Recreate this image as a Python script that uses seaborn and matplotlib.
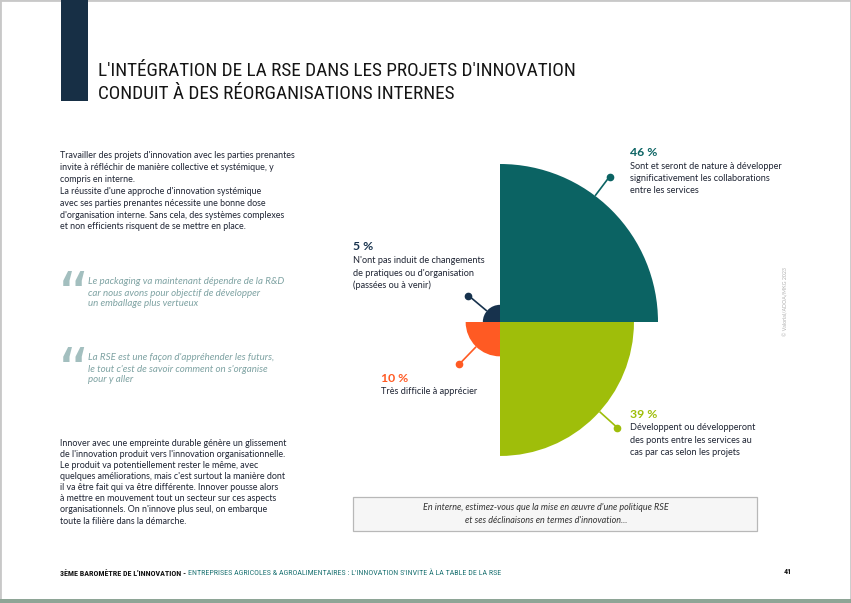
import numpy as np
import pandas as pd
import matplotlib
matplotlib.use("Agg")
import matplotlib.pyplot as plt
from matplotlib.patches import Rectangle
import seaborn as sns

# ---------------- data ----------------
labels = ["Sont et seront de nature à développer\nsignificativement les collaborations\nentre les services",
          "Développent ou développeront\ndes ponts entre les services au\ncas par cas selon les projets",
          "Très difficile à apprécier",
          "N'ont pas induit de changements\nde pratiques ou d'organisation\n(passées ou à venir)"]
values = [46, 39, 10, 5]
pct_labels = ["46 %", "39 %", "10 %", "5 %"]
colors = ["#0b6363", "#9fbe0a", "#ff5a23", "#17324d"]
# sector centres (radians): NE, SE, SW, NW quadrants
sector_theta = [np.pi / 4, -np.pi / 4, -3 * np.pi / 4, 3 * np.pi / 4]

title = "L'INTÉGRATION DE LA RSE DANS LES PROJETS D'INNOVATION\nCONDUIT À DES RÉORGANISATIONS INTERNES"
para1 = ["Travailler des projets d'innovation avec les parties prenantes",
         "invite à réfléchir de manière collective et systémique, y",
         "compris en interne.",
         "La réussite d'une approche d'innovation systémique",
         "avec ses parties prenantes nécessite une bonne dose",
         "d'organisation interne. Sans cela, des systèmes complexes",
         "et non efficients risquent de se mettre en place."]
quote1 = ["Le packaging va maintenant dépendre de la R&D",
          "car nous avons pour objectif de développer",
          "un emballage plus vertueux"]
quote2 = ["La RSE est une façon d'appréhender les futurs,",
          "le tout c'est de savoir comment on s'organise",
          "pour y aller"]
para3 = ["Innover avec une empreinte durable génère un glissement",
         "de l'innovation produit vers l'innovation organisationnelle.",
         "Le produit va potentiellement rester le même, avec",
         "quelques améliorations, mais c'est surtout la manière dont",
         "il va être fait qui va être différente. Innover pousse alors",
         "à mettre en mouvement tout un secteur sur ces aspects",
         "organisationnels. On n'innove plus seul, on embarque",
         "toute la filière dans la démarche."]
caption = "En interne, estimez-vous que la mise en œuvre d'une politique RSE\net ses déclinaisons en termes d'innovation..."
footer_bold = "3ÈME BAROMÈTRE DE L'INNOVATION - "
footer_rest = "ENTREPRISES AGRICOLES & AGROALIMENTAIRES : L'INNOVATION S'INVITE À LA TABLE DE LA RSE"
page_num = "41"
copyright_txt = "© Valorial/ADOA/MKG 2023"

# ---------------- figure ----------------
sns.set_theme(style="white")
plt.rcParams["font.family"] = ["Lato", "DejaVu Sans"]
COND = ["Roboto Condensed", "DejaVu Sans"]

W, H = 851, 603
fig = plt.figure(figsize=(W / 100, H / 100), dpi=100)
fig.patch.set_facecolor("white")


def fx(x):
    return x / W


def fy(y):
    return 1 - y / H


# page decorations
fig.add_artist(Rectangle((0, 0), 1, 1, transform=fig.transFigure, fill=False,
                         edgecolor="#c8c8c8", lw=2))
fig.add_artist(Rectangle((0, 0), 1, 4 / H, transform=fig.transFigure,
                         facecolor="#8ea596", edgecolor="none"))
fig.add_artist(Rectangle((fx(61), fy(101)), 27 / W, 101 / H, transform=fig.transFigure,
                         facecolor="#172f45", edgecolor="none"))

# title
fig.text(fx(98), fy(82.5), title, ha="left", va="center", fontsize=13.9,
         family=COND, fontstretch="condensed",
         color="#151515", linespacing=1.3)

body_col = "#1e2433"
for i, line in enumerate(para1):
    fig.text(fx(60), fy(155 + 12 * i), line, ha="left", va="center",
             fontsize=6.4, color=body_col)

quote_col = "#7fa3a3"
for y0, q in [(282, quote1), (358, quote2)]:
    fig.text(fx(58), fy(y0 - 12), "\u201c", ha="left", va="top", fontsize=44,
             color="#a3bfbf", family=["DejaVu Sans"])
    for i, line in enumerate(q):
        fig.text(fx(88), fy(y0 + 11 * i), line, ha="left", va="center",
                 fontsize=7.0, color=quote_col, style="italic")

for i, line in enumerate(para3):
    fig.text(fx(60), fy(443 + 11.15 * i), line, ha="left", va="center",
             fontsize=6.4, color=body_col)

# caption box
fig.add_artist(Rectangle((fx(353), fy(531)), 404 / W, 34 / H, transform=fig.transFigure,
                         facecolor="#f6f6f6", edgecolor="#b8b8b8", lw=0.9))
fig.text(fx(546), fy(514), caption, ha="center", va="center", fontsize=6.5,
         color="#333333", style="italic", linespacing=1.45)

# footer
t = fig.text(fx(60), fy(573), footer_bold, ha="left", va="center", fontsize=5.8,
             color="#111111", weight="bold", family=COND)
fig.canvas.draw()
bb = t.get_window_extent()
fig.text(bb.x1 / W, fy(573), footer_rest, ha="left", va="center", fontsize=5.8,
         color="#1f7474", family=COND)
fig.text(fx(788), fy(571), page_num, ha="center", va="center", fontsize=5.8,
         color="#111111", weight="bold", family=COND)

# copyright
fig.text(fx(786), fy(302), copyright_txt, rotation=90, ha="center", va="center",
         fontsize=3.8, color="#b0b0b0")

# ---------------- polar chart ----------------
S = 400
cx, cy = 500, 322
ax = fig.add_axes([fx(cx - S / 2), fy(cy + S / 2), S / W, S / H], projection="polar")
df = pd.DataFrame({"theta": sector_theta, "value": values, "label": pct_labels})
sns.barplot(data=df, x="theta", y="value", hue="label",
            palette=dict(zip(pct_labels, colors)), saturation=1, native_scale=True,
            width=1.0, dodge=False, orient="x", errorbar=None, linewidth=0,
            legend=False, ax=ax)
rmax = (S / 2) / (158 / 46)
ax.set_ylim(0, rmax)
ax.set_axis_off()

# leader lines with dots
leader_deg = [53, -42, 226, 140]
for v, d, c in zip(values, leader_deg, colors):
    th = np.deg2rad(d)
    ax.plot([th, th], [v, v + 7], color=c, lw=1.2, clip_on=False, solid_capstyle="butt")
    ax.plot([th], [v + 7], "o", color=c, ms=4.5, clip_on=False)

# labels
label_pos = [(630, 152), (630, 414), (381, 378), (353, 247)]
for (x, y), pct, lab, c in zip(label_pos, pct_labels, labels, colors):
    fig.text(fx(x), fy(y), pct, ha="left", va="center", fontsize=8.8,
             weight="bold", color=c)
    for i, line in enumerate(lab.split("\n")):
        fig.text(fx(x), fy(y + 14 + 12.3 * i), line, ha="left", va="center",
                 fontsize=6.6, color=body_col)

fig.savefig("out.png", dpi=100)
